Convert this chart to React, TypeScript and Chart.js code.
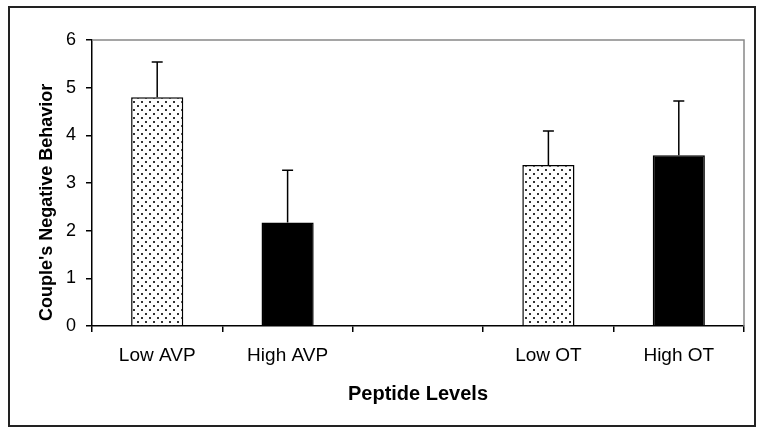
import React, { useEffect, useRef } from "react";
import { Chart, registerables } from "chart.js";

Chart.register(...registerables);

// ---- data ----
const categories = ["Low AVP", "High AVP", "", "Low OT", "High OT"];
const meanValues: (number | null)[] = [4.8, 2.17, null, 3.38, 3.58];
const errorValues: (number | null)[] = [0.74, 1.1, null, 0.71, 1.14];
const yTickValues = [0, 1, 2, 3, 4, 5, 6];
const xTitle = "Peptide Levels";
const yTitle = " Couple's Negative Behavior";

function makeDotPattern(): CanvasPattern | string {
  const c = document.createElement("canvas");
  c.width = 8;
  c.height = 8;
  const g = c.getContext("2d");
  if (!g) return "#ccc";
  g.fillStyle = "#fff";
  g.fillRect(0, 0, 8, 8);
  g.fillStyle = "#333";
  g.fillRect(1, 1, 2, 2);
  g.fillRect(5, 5, 2, 2);
  const p = g.createPattern(c, "repeat");
  return p || "#ccc";
}

const errorBarPlugin = {
  id: "errorBars",
  afterDatasetsDraw(chart: any) {
    const ctx = chart.ctx;
    const meta = chart.getDatasetMeta(0);
    const y = chart.scales.y;
    ctx.save();
    ctx.strokeStyle = "#000";
    ctx.lineWidth = 1.5;
    meta.data.forEach((bar: any, i: number) => {
      const m = meanValues[i];
      const e = errorValues[i];
      if (m == null || e == null) return;
      const top = y.getPixelForValue(m + e);
      const base = y.getPixelForValue(m);
      ctx.beginPath();
      ctx.moveTo(bar.x, base);
      ctx.lineTo(bar.x, top);
      ctx.moveTo(bar.x - 5.5, top);
      ctx.lineTo(bar.x + 5.5, top);
      ctx.stroke();
    });
    ctx.restore();
  },
};

const framePlugin = {
  id: "frame",
  beforeDraw(chart: any) {
    const ctx = chart.ctx;
    ctx.save();
    ctx.fillStyle = "#fff";
    ctx.fillRect(0, 0, chart.width, chart.height);
    ctx.restore();
  },
  afterDraw(chart: any) {
    const ctx = chart.ctx;
    const a = chart.chartArea;
    ctx.save();
    ctx.strokeStyle = "#888";
    ctx.lineWidth = 1.5;
    ctx.beginPath();
    ctx.moveTo(a.left, a.top);
    ctx.lineTo(a.right, a.top);
    ctx.lineTo(a.right, a.bottom);
    ctx.stroke();
    ctx.strokeStyle = "#222";
    ctx.lineWidth = 2;
    ctx.strokeRect(9, 7, 746, 419);
    ctx.restore();
  },
};

const FONT = "'Liberation Sans', Arial, sans-serif";

export default function App() {
  const ref = useRef<HTMLCanvasElement | null>(null);

  useEffect(() => {
    if (!ref.current) return;
    const dots = makeDotPattern();
    const fills = categories.map((c) =>
      c.startsWith("Low") ? dots : c.startsWith("High") ? "#000" : "rgba(0,0,0,0)"
    );
    const chart = new Chart(ref.current, {
      type: "bar",
      data: {
        labels: categories,
        datasets: [
          {
            data: meanValues as any,
            backgroundColor: fills as any,
            borderColor: "#000",
            borderWidth: 1.5,
            barPercentage: 0.4,
            categoryPercentage: 1,
          },
        ],
      },
      options: {
        responsive: false,
        animation: false,
        devicePixelRatio: 1,
        layout: { padding: { left: 0, top: 40, right: 18, bottom: 0 } },
        plugins: {
          legend: { display: false },
          tooltip: { enabled: false },
        },
        scales: {
          x: {
            type: "category",
            offset: true,
            grid: {
              offset: true,
              drawOnChartArea: false,
              tickLength: 6,
              color: "#000",
              lineWidth: 1.5,
            },
            border: { color: "#000", width: 1.5 },
            ticks: {
              color: "#000",
              padding: 12,
              font: { family: FONT, size: 19 },
              maxRotation: 0,
              autoSkip: false,
            },
            title: {
              display: true,
              text: xTitle,
              color: "#000",
              font: { family: FONT, size: 20, weight: "bold" },
              padding: { top: 0, bottom: 26 },
            },
            afterFit: (s: any) => {
              s.height = 106;
            },
          },
          y: {
            min: 0,
            max: 6,
            afterBuildTicks: (s: any) => {
              s.ticks = yTickValues.map((v) => ({ value: v }));
            },
            grid: {
              drawOnChartArea: false,
              tickLength: 6,
              color: "#000",
              lineWidth: 1.5,
            },
            border: { color: "#000", width: 1.5 },
            ticks: {
              color: "#000",
              padding: 10,
              font: { family: FONT, size: 18 },
            },
            title: {
              display: true,
              text: yTitle,
              align: "start",
              color: "#000",
              font: { family: FONT, size: 18, weight: "bold" },
              padding: { top: 36, bottom: 0 },
            },
            afterFit: (s: any) => {
              s.width = 92;
            },
          },
        },
      },
      plugins: [errorBarPlugin, framePlugin],
    });
    return () => chart.destroy();
  }, []);

  return (
    <div style={{ position: "absolute", left: 0, top: 0, width: 762, height: 432 }}>
      <canvas ref={ref} width={762} height={432} />
    </div>
  );
}
